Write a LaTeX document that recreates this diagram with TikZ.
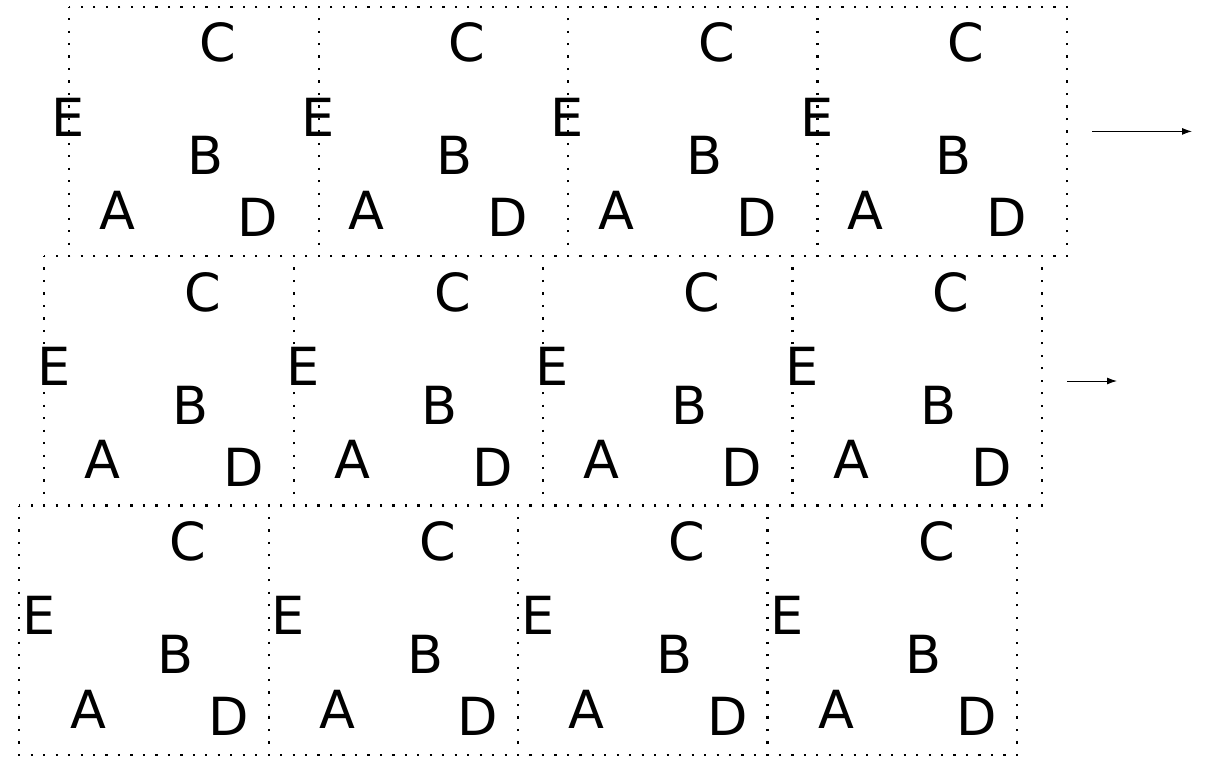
\documentclass[tikz,border=0pt]{standalone}
\usepackage{fontspec}
\setmainfont{DejaVu Sans}
\usetikzlibrary{arrows.meta}
\begin{document}
\begin{tikzpicture}[x=1pt,y=-1pt,
  cell/.style={draw, line width=2.2pt, dash pattern=on 2.2pt off 10.27pt, dash phase=1.1pt},
  lbl/.style={inner sep=0pt, font=\fontsize{52.5}{60}\selectfont},
  flow/.style={-{Latex[length=10pt,width=7pt]}, line width=1pt}]
\useasboundingbox (0,0) rectangle (1209,758);
\foreach \r in {0,1,2}{
  \foreach \c in {0,...,3}{
    \pgfmathsetmacro\bx{69.3-25*\r+249.4*\c}
    \pgfmathsetmacro\by{6.7+249.4*\r}
    \pgfmathsetmacro\lx{68.5-14.75*\r+249.4*\c}
    \draw[cell] (\bx,\by) rectangle ++(249.4,249.4);
    \node[lbl] (C-\r-\c) at (\lx+149.3,\by+36) {C};
    \node[lbl] (E-\r-\c) at (\lx,\by+110.3) {E};
    \node[lbl] (B-\r-\c) at (\lx+136.7,\by+149.1) {B};
    \node[lbl] (A-\r-\c) at (\lx+49,\by+203.6) {A};
    \node[lbl] (D-\r-\c) at (\lx+189.5,\by+211.1) {D};
  }
}
\coordinate (s1) at (1092,131.4);
\coordinate (e1) at (1192,131.4);
\coordinate (s2) at (1067,381);
\coordinate (e2) at (1117,381);
\draw[flow] (s1) -- (e1);
\draw[flow] (s2) -- (e2);
\end{tikzpicture}
\end{document}
